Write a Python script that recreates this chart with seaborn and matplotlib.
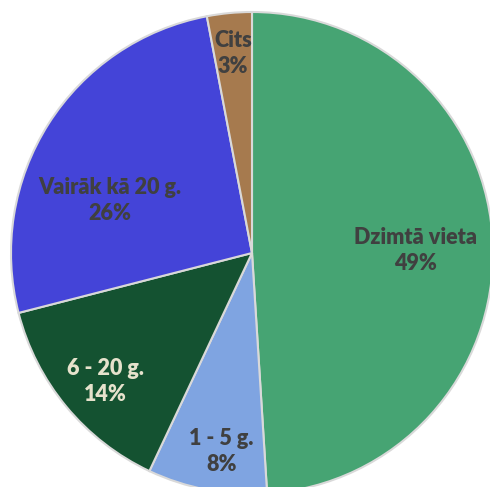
import numpy as np
import matplotlib
matplotlib.use("Agg")
import matplotlib.pyplot as plt
import seaborn as sns

sns.set_theme(style="white")
plt.rcParams['font.family'] = ['Lato', 'DejaVu Sans']

categories = ["Dzimtā vieta", "1 - 5 g.", "6 - 20 g.", "Vairāk kā 20 g.", "Cits"]
values = [49, 8, 14, 26, 3]
colors = ["#46A473", "#7FA4E1", "#145231", "#4444D8", "#A67A4E"]
text_colors = ["#404040", "#404040", "#E6E2CC", "#404040", "#404040"]
label_radius = [0.68, 0.835, 0.81, 0.63, 0.83]
label_angle_shift = [-1.0, 2.0, 1.7, 12.0, 0.0]

W, H = 490, 487
fig = plt.figure(figsize=(W / 100, H / 100), dpi=100)
ax = fig.add_axes([0, 0, 1, 1])
cx, cy, R = 252, 253, 241

wedges, _ = ax.pie(values, colors=colors, startangle=90, counterclock=False,
                   radius=1.0, wedgeprops=dict(edgecolor="#D9D9D9", linewidth=1.5))
ax.set_xlim(-cx / R, (W - cx) / R)
ax.set_ylim(-(H - cy) / R, cy / R)
ax.set_aspect("equal")
ax.axis("off")

total = sum(values)
cum = 0
for cat, v, tc, lr, da in zip(categories, values, text_colors, label_radius, label_angle_shift):
    mid = 90 - 360 * (cum + v / 2) / total + da
    cum += v
    x = lr * np.cos(np.radians(mid))
    y = lr * np.sin(np.radians(mid))
    pct = round(100 * v / total)
    ax.text(x, y, f"{cat}\n{pct}%", ha="center", va="center", color=tc,
            fontsize=15.5, fontweight="heavy", linespacing=1.3)

fig.savefig("out.png", dpi=100)
